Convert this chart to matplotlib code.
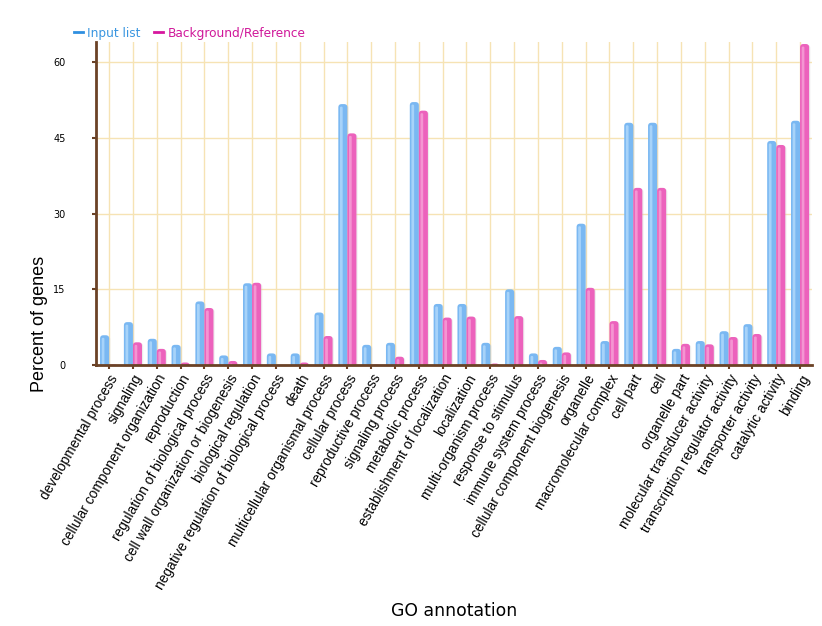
import matplotlib
matplotlib.use("Agg")
import matplotlib.pyplot as plt
from matplotlib.patches import FancyBboxPatch
from matplotlib.lines import Line2D
import numpy as np

categories = [
    "developmental process", "signaling", "cellular component organization",
    "reproduction", "regulation of biological process",
    "cell wall organization or biogenesis", "biological regulation",
    "negative regulation of biological process", "death",
    "multicellular organismal process", "cellular process",
    "reproductive process", "signaling process", "metabolic process",
    "establishment of localization", "localization", "multi-organism process",
    "response to stimulus", "immune system process",
    "cellular component biogenesis", "organelle", "macromolecular complex",
    "cell part", "cell", "organelle part", "molecular transducer activity",
    "transcription regulator activity", "transporter activity",
    "catalytic activity", "binding",
]
input_list = [5.9, 8.5, 5.2, 4.0, 12.6, 1.9, 16.2, 2.3, 2.3, 10.4,
              51.7, 4.0, 4.4, 52.1, 12.1, 12.1, 4.4, 15.0, 2.3, 3.6,
              28.0, 4.75, 48.0, 48.0, 3.2, 4.75, 6.7, 8.1, 44.4, 48.4]
background = [0.1, 4.5, 3.2, 0.5, 11.3, 0.8, 16.3, 0.0, 0.5, 5.75,
              45.9, 0.1, 1.65, 50.4, 9.4, 9.6, 0.3, 9.7, 1.0, 2.5,
              15.3, 8.7, 35.1, 35.1, 4.2, 4.1, 5.55, 6.15, 43.6, 63.6]
yticks = [0, 15, 30, 45, 60]

axis_col = "#6b4226"
grid_col = "#f6e3b4"
blue, blue_hi = "#7ab8f2", "#b3dafc"
pink, pink_hi = "#ec62bc", "#f7a2d8"

fig = plt.figure(figsize=(8.22, 6.26), dpi=100)
ax = fig.add_axes([0.1168, 0.4169, 0.8710, 0.516])

x = np.arange(len(categories))
w = 0.38
# y units per x unit, so the rounded corners stay round on screen
aspect = (64.0 / (0.516 * 626)) / (30.05 / (0.8710 * 822))


def rounded(bars, face, hi):
    for r in bars:
        r.set_visible(False)
        bx, bw, bh = r.get_x(), r.get_width(), r.get_height()
        if bh <= 0:
            continue
        # soft shadow
        ax.add_patch(FancyBboxPatch((bx + 0.05, -3), bw, bh + 3 - 0.15,
                                    boxstyle="round,pad=0,rounding_size=0.14",
                                    mutation_aspect=aspect, fc="#cccccc",
                                    ec="none", alpha=0.35, zorder=2))
        ax.add_patch(FancyBboxPatch((bx, -3), bw, bh + 3,
                                    boxstyle="round,pad=0,rounding_size=0.14",
                                    mutation_aspect=aspect, fc=face,
                                    ec="none", zorder=3))
        ax.add_patch(FancyBboxPatch((bx + bw * 0.18, -3), bw * 0.3, bh + 3 - 0.5,
                                    boxstyle="round,pad=0,rounding_size=0.05",
                                    mutation_aspect=aspect, fc=hi,
                                    ec="none", alpha=0.8, zorder=4))


b1 = ax.bar(x - w / 2, input_list, w)
b2 = ax.bar(x + w / 2, background, w)
rounded(b1, blue, blue_hi)
rounded(b2, pink, pink_hi)

ax.set_xlim(-0.55, 29.5)
ax.set_ylim(0, 64)
ax.set_yticks(yticks)
ax.set_yticklabels([str(v) for v in yticks], fontsize=7, family="DejaVu Sans")
ax.set_xticks(x)
ax.set_xticklabels(categories, rotation=60, ha="right", rotation_mode="anchor",
                   fontsize=9.9, family="Liberation Sans")
ax.grid(True, color=grid_col, lw=1, zorder=0)
ax.set_axisbelow(True)
for s in ["top", "right"]:
    ax.spines[s].set_visible(False)
for s in ["left", "bottom"]:
    ax.spines[s].set_color(axis_col)
    ax.spines[s].set_linewidth(2)
    ax.spines[s].set_zorder(6)
ax.tick_params(axis="both", colors=axis_col, length=3, width=1.5, labelcolor="black")
ax.tick_params(axis="y", pad=19)
ax.tick_params(axis="x", pad=2)

fig.text(0.048, 0.482, "Percent of genes", rotation=90, ha="center", va="center",
         fontsize=13, family="Liberation Sans")
fig.text(0.553, 0.024, "GO annotation", ha="center", va="center",
         fontsize=12.4, family="DejaVu Sans")

handles = [Line2D([], [], color="#2f8fe0", lw=2),
           Line2D([], [], color="#d6179e", lw=2)]
ax.legend(handles, ["Input list", "Background/Reference"], loc="center left",
          bbox_to_anchor=(0.077, 0.947), bbox_transform=fig.transFigure,
          ncol=2, frameon=False, handlelength=0.75, handletextpad=0.35,
          columnspacing=1.1, prop={"family": "DejaVu Sans", "size": 8.7},
          labelcolor=["#3a96e0", "#d0189a"])

fig.savefig("out.png", dpi=100)
